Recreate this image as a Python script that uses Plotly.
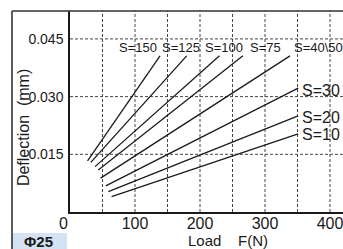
import plotly.graph_objects as go

series = ["S=150", "S=125", "S=100", "S=75", "S=40\\50", "S=30", "S=20", "S=10"]
load_start = [27, 32, 38.5, 43.5, 47, 55, 59, 64]
load_end = [138.5, 179.5, 230, 266, 338.5, 351, 351, 351]
defl_start = [0.0133, 0.0129, 0.0118, 0.0109, 0.0088, 0.0068, 0.0053, 0.0040]
defl_end = [0.0406, 0.0406, 0.0406, 0.0406, 0.0406, 0.0322, 0.0250, 0.0203]

# label anchor positions (data units)
label_x = [104.5, 171, 237, 300, 343, 355, 355, 355]
label_y = [0.0429, 0.0429, 0.0429, 0.0429, 0.0429, 0.0317, 0.0247, 0.0201]
label_anchor = ["center", "center", "center", "center", "left", "left", "left", "left"]
label_size = [13, 13, 13, 13, 13, 16, 16, 16]

x_ticks = [100, 200, 300, 400]
y_ticks = [0.015, 0.030, 0.045]
y_tick_text = ["0.015", "0.030", "0.045"]

FONT = "Liberation Sans, Arial, sans-serif"
INK = "#1a1a1a"

fig = go.Figure()
for name, x0, x1, y0, y1 in zip(series, load_start, load_end, defl_start, defl_end):
    fig.add_trace(go.Scatter(x=[x0, x1], y=[y0, y1], mode="lines",
                             line=dict(color=INK, width=1.3),
                             name=name, showlegend=False, hoverinfo="skip"))

for t, x, y, a, s in zip(series, label_x, label_y, label_anchor, label_size):
    fig.add_annotation(x=x, y=y, text=t, showarrow=False, xanchor=a, yanchor="middle",
                       font=dict(family=FONT, size=s, color=INK), borderpad=0)

# origin label
fig.add_annotation(x=-0.022, y=-0.005, xref="paper", yref="paper", text="0",
                   showarrow=False, xanchor="center", yanchor="top",
                   font=dict(family=FONT, size=16, color=INK))

# axis titles
fig.add_annotation(x=0.579, y=-0.142, xref="paper", yref="paper", text="Load    F(N)",
                   showarrow=False, xanchor="center", yanchor="middle",
                   font=dict(family=FONT, size=15, color=INK))
fig.add_annotation(x=-0.168, y=0.418, xref="paper", yref="paper", text="Deflection  (mm)",
                   showarrow=False, xanchor="center", yanchor="middle", textangle=-90,
                   font=dict(family=FONT, size=16, color=INK))

# Phi25 box
fig.add_shape(type="rect", xref="paper", yref="paper",
              x0=-0.2125, x1=-0.011, y0=-0.19, y1=-0.104,
              fillcolor="#d3e3f3", line=dict(width=0), layer="below")
fig.add_annotation(x=-0.175, y=-0.147, xref="paper", yref="paper", text="<b>Φ25</b>",
                   showarrow=False, xanchor="left", yanchor="middle",
                   font=dict(family=FONT, size=15, color=INK))

# outer frame
fig.add_shape(type="line", xref="paper", yref="paper", x0=-0.2125, x1=1.01, y0=1, y1=1,
              line=dict(color="#333333", width=1.6))
fig.add_shape(type="line", xref="paper", yref="paper", x0=-0.2125, x1=-0.2125, y0=1, y1=-0.2,
              line=dict(color="#333333", width=1.6))

fig.update_layout(
    width=343, height=249,
    margin=dict(l=70, r=0, t=11, b=37, autoexpand=False),
    paper_bgcolor="white", plot_bgcolor="white",
    font=dict(family=FONT, color=INK),
    xaxis=dict(range=[0, 420], tickvals=x_ticks, ticktext=[str(v) for v in x_ticks],
               showgrid=False, zeroline=False, showline=True, linecolor=INK, linewidth=1.5,
               ticks="", tickfont=dict(size=16), ticklabelstandoff=-4, automargin=False,
               ticklabeloverflow="allow"),
    yaxis=dict(range=[0, 0.05226], tickvals=y_ticks, ticktext=y_tick_text,
               showgrid=False, zeroline=False, showline=True, linecolor=INK, linewidth=1.5,
               ticks="", tickfont=dict(size=14), ticklabelstandoff=2, automargin=False),
)

# dashed grid lines
for gx in [50, 100, 150, 200, 250, 300, 350, 400]:
    fig.add_shape(type="line", x0=gx, x1=gx, y0=0, y1=0.05226, xref="x", yref="y",
                  line=dict(color="#444444", width=1, dash="3px,2px"), layer="below")
for gy in y_ticks:
    fig.add_shape(type="line", x0=0, x1=420, y0=gy, y1=gy, xref="x", yref="y",
                  line=dict(color="#444444", width=1, dash="3px,2px"), layer="below")

fig.write_html("out.html", config={"displayModeBar": False},
               post_script="document.body.style.margin='0';document.body.style.overflow='hidden';")
